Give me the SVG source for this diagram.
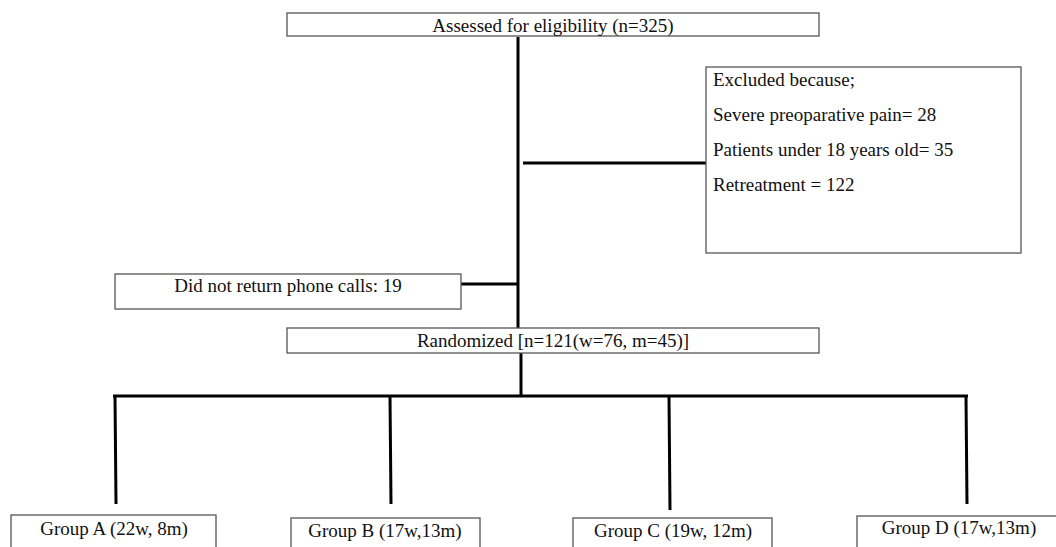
<svg xmlns="http://www.w3.org/2000/svg" width="1056" height="547" viewBox="0 0 1056 547">
<style>
.box{fill:#fff;stroke:#555;stroke-width:1.3}
.t{font-family:"Liberation Serif","Times New Roman",serif;font-size:19px;fill:#111}
.c{text-anchor:middle}
.ln{stroke:#000;stroke-width:3;fill:none}
</style>
<rect width="1056" height="547" fill="#fff"/>
<g id="connectors">
<line class="ln" x1="518" y1="37" x2="518" y2="328"/>
<line class="ln" x1="523" y1="163" x2="706" y2="163"/>
<line class="ln" x1="460" y1="284" x2="519" y2="284"/>
<line class="ln" x1="521" y1="353" x2="521" y2="397"/>
<line class="ln" x1="113" y1="396" x2="968" y2="396"/>
<line class="ln" x1="115" y1="396" x2="116" y2="504"/>
<line class="ln" x1="390" y1="396" x2="391" y2="504"/>
<line class="ln" x1="669" y1="396" x2="670" y2="510"/>
<line class="ln" x1="966" y1="396" x2="967" y2="504"/>
</g>
<g id="assessed">
<rect class="box" x="287" y="13" width="532" height="23"/>
<text class="t c" x="553" y="32">Assessed for eligibility (n=325)</text>
</g>
<g id="excluded">
<rect class="box" x="706" y="67" width="315" height="186"/>
<text class="t" x="713" y="86">Excluded because;</text>
<text class="t" x="713" y="121">Severe preoparative pain= 28</text>
<text class="t" x="713" y="156">Patients under 18 years old= 35</text>
<text class="t" x="713" y="191">Retreatment = 122</text>
</g>
<g id="noreturn">
<rect class="box" x="115" y="274" width="346" height="35"/>
<text class="t c" x="288" y="292">Did not return phone calls: 19</text>
</g>
<g id="randomized">
<rect class="box" x="287" y="328" width="532" height="25"/>
<text class="t c" x="553" y="347">Randomized [n=121(w=76, m=45)]</text>
</g>
<g id="groupA">
<rect class="box" x="11" y="515" width="205" height="40"/>
<text class="t c" x="114" y="535">Group A (22w, 8m)</text>
</g>
<g id="groupB">
<rect class="box" x="291" y="518" width="189" height="40"/>
<text class="t c" x="385" y="537">Group B (17w,13m)</text>
</g>
<g id="groupC">
<rect class="box" x="573" y="518" width="199" height="40"/>
<text class="t c" x="673" y="537">Group C (19w, 12m)</text>
</g>
<g id="groupD">
<rect class="box" x="857" y="516" width="210" height="40"/>
<text class="t c" x="959" y="534">Group D (17w,13m)</text>
</g>
</svg>
